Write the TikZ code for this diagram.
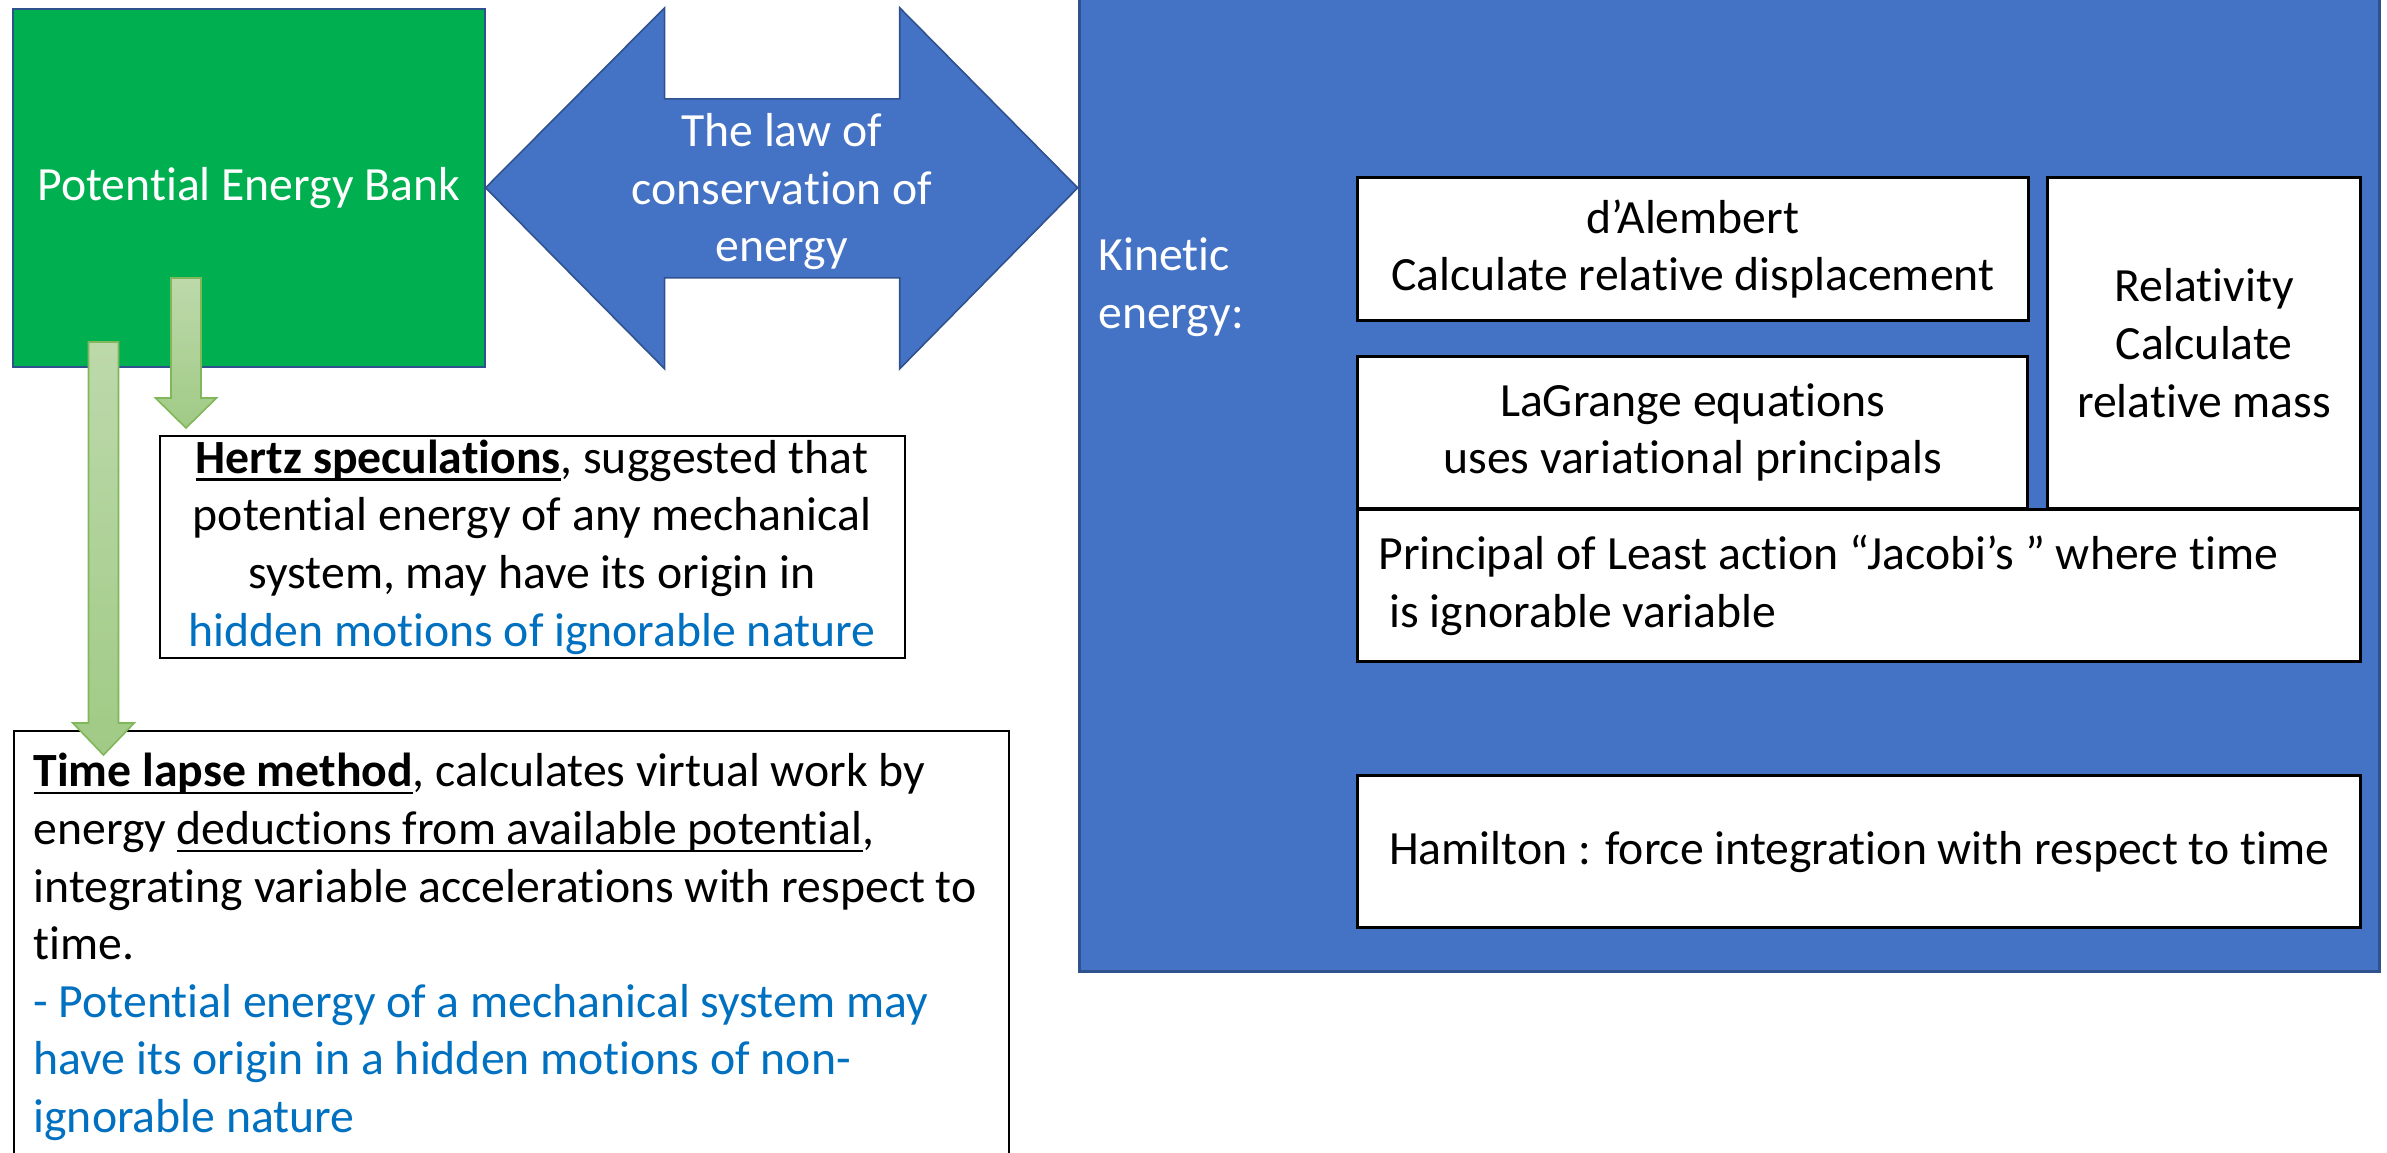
\documentclass[tikz,border=0pt]{standalone}
\usepackage{fontspec}
\setmainfont{Carlito}[Ligatures={NoCommon}]
\newsavebox{\ulinebox}
\newcommand{\myul}[1]{\sbox{\ulinebox}{#1}\rlap{\rule[-3.7pt]{\wd\ulinebox}{1.1pt}}\usebox{\ulinebox}}
\usetikzlibrary{calc}
\definecolor{pgreen}{HTML}{00B050}
\definecolor{kblue}{HTML}{4472C4}
\definecolor{kedge}{HTML}{2F528F}
\definecolor{tblue}{HTML}{0070C0}
\definecolor{atop}{HTML}{BDD9AB}
\definecolor{abot}{HTML}{A0CA85}
\definecolor{aedge}{HTML}{7FB75A}
\begin{document}
\begin{tikzpicture}[x=0.5pt,y=-0.5pt,
  font=\fontsize{23.85pt}{28.8pt}\selectfont,
  box/.style={draw=black, line width=1pt, fill=white, anchor=north west, inner sep=0pt, align=center},
  inbox/.style={draw=black, line width=1.6pt, fill=white, anchor=north west, inner sep=0pt, align=center},
  garrow/.style={top color=atop, bottom color=abot, draw=aedge, line width=0.8pt},
  whitetext/.style={text=white, inner sep=0pt}
]
\useasboundingbox (0,0) rectangle (2387,1152);
% kinetic energy container
\node[draw=kedge, fill=kblue, line width=1.5pt, anchor=north west, minimum width=650pt, minimum height=490pt, inner sep=0pt] (kbox) at (1077.7,-10) {};
\node[whitetext, align=left, anchor=west] (kin) at (1098,287) {Kinetic\\energy:};
% potential energy bank
\node[draw=kedge, fill=pgreen, line width=0.8pt, anchor=north west, minimum width=236pt, minimum height=179pt, inner sep=0pt, text=white] (peb) at (12,8) {Potential Energy Bank};
% double arrow
\coordinate (L) at (peb.east);
\coordinate (R) at (peb.east -| kbox.west);
\filldraw[draw=kedge, fill=kblue, line width=0.8pt] (L) -- ($(L)+(179,-180)$) -- ($(L)+(179,-89)$) -- ($(R)+(-178,-89)$) -- ($(R)+(-178,-180)$) -- (R) -- ($(R)+(-178,181)$) -- ($(R)+(-178,90)$) -- ($(L)+(179,90)$) -- ($(L)+(179,181)$) -- cycle;
\node[whitetext, align=center] (law) at ($(L)!0.5!(R)+(0,4)$) {The law of\\conservation of\\energy};
% Hertz box
\node[box, minimum width=372.5pt, minimum height=111pt] (hz) at (158.5,435) {\myul{\textbf{Hertz speculations}}, suggested that\\potential energy of any mechanical\\system, may have its origin in\\\textcolor{tblue}{hidden motions of ignorable nature}};
% Time lapse box
\node[box, minimum height=216pt, text width=477.5pt, inner xsep=10pt, align=flush left] (tl) at (12.6,730) {\mbox{\myul{\textbf{Time lapse method}}, calculates virtual work by}\\\mbox{energy \myul{deductions from available potential},}\\\mbox{integrating variable accelerations with respect to}\\\mbox{time.}\\\mbox{\textcolor{tblue}{- Potential energy of a mechanical system may}}\\\mbox{\textcolor{tblue}{have its origin in a hidden motions of non-}}\\\mbox{\textcolor{tblue}{ignorable nature}}};
% inner boxes
\node[inbox, minimum width=335.25pt, minimum height=71.5pt] (dal) at (1356,176) {d’Alembert\\Calculate relative displacement};
\node[inbox, minimum width=156.5pt, minimum height=165.5pt] (rel) at (2046,176) {Relativity\\Calculate\\relative mass};
\node[inbox, minimum width=335pt, minimum height=76pt] (lag) at (1356,355) {LaGrange equations\\uses variational principals};
\node[inbox, minimum height=76pt, text width=480.5pt, inner xsep=10.5pt, align=flush left] (pla) at (1356,508) {\mbox{Principal of Least action “Jacobi’s ” where time}\\\mbox{\hspace*{0.23em}is ignorable variable}};
\node[inbox, minimum width=501.5pt, minimum height=76pt] (ham) at (1356,774) {Hamilton : force integration with respect to time};
% green down arrows
\coordinate (a1s) at (186,278);
\coordinate (a1t) at (186,428);
\shadedraw[garrow] ($(a1s)+(-15,0)$) -- ($(a1s)+(15,0)$) -- ($(a1t)+(15,-30)$) -- ($(a1t)+(30.5,-30)$) -- (a1t) -- ($(a1t)+(-30.5,-30)$) -- ($(a1t)+(-15,-30)$) -- cycle;
\coordinate (a2s) at (103.5,342);
\coordinate (a2t) at (103.5,755);
\shadedraw[garrow] ($(a2s)+(-15,0)$) -- ($(a2s)+(15,0)$) -- ($(a2t)+(15,-32)$) -- ($(a2t)+(30.7,-32)$) -- (a2t) -- ($(a2t)+(-30.7,-32)$) -- ($(a2t)+(-15,-32)$) -- cycle;
\end{tikzpicture}
\end{document}
